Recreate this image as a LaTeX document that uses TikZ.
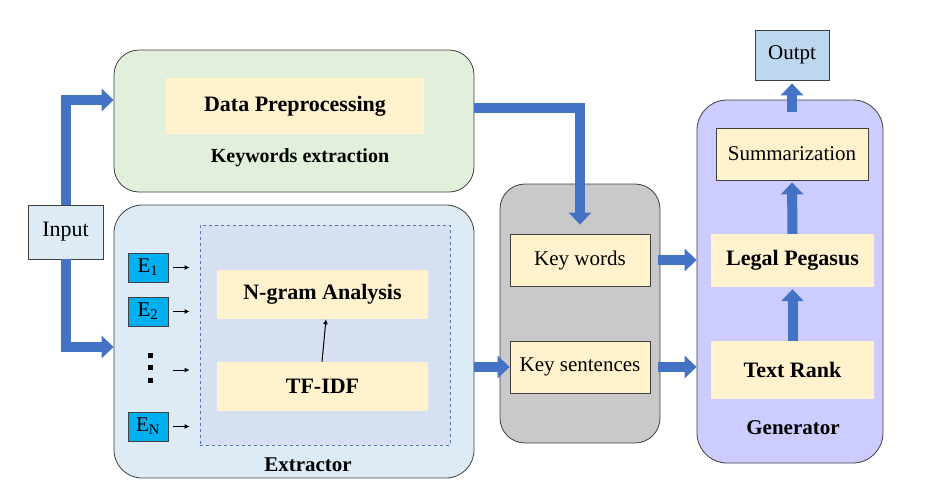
\documentclass[tikz,border=0pt]{standalone}
\usepackage{fontspec}
\setmainfont{Liberation Serif}
\usetikzlibrary{arrows.meta}
\definecolor{kwgreen}{HTML}{E2EFDA}
\definecolor{boxyellow}{HTML}{FFF2CC}
\definecolor{extblue}{HTML}{DDEBF7}
\definecolor{dashblue}{HTML}{D6E0F0}
\definecolor{ecyan}{HTML}{00B0F0}
\definecolor{kgray}{HTML}{C9C9C9}
\definecolor{genviolet}{HTML}{CCCCFF}
\definecolor{outblue}{HTML}{BDD7EE}
\definecolor{arrowblue}{HTML}{4472C4}
\definecolor{edge}{HTML}{404040}
\tikzset{
  every node/.style={inner sep=0pt, font=\fontsize{21}{25}\selectfont},
  group/.style={draw=edge, line width=0.8pt, rounded corners=28pt},
  yellowbox/.style={fill=boxyellow},
  framedbox/.style={fill=boxyellow, draw=edge, line width=0.8pt},
  ebox/.style={fill=ecyan, draw=edge, line width=0.8pt, minimum width=40pt, minimum height=29pt},
  bigarrow/.style={draw=arrowblue, line width=10pt, -{Triangle[width=22pt,length=12pt]}},
  smallarrow/.style={draw=black, line width=1pt, -{Latex[length=5pt,width=5pt]}}
}
\begin{document}
\begin{tikzpicture}[x=1pt,y=-1pt]
		%%%%% START %%%%%
		\useasboundingbox (0,0) rectangle (930,498);
		
		% keywords extraction
		\node[group, fill=kwgreen, rounded corners=25pt, minimum width=360pt, minimum height=142pt] (kwx) at (294, 121) {};
		\node[yellowbox, minimum width=258pt, minimum height=56pt, font=\fontsize{22}{26}\selectfont\bfseries] (dp) at (295, 106) {Data Preprocessing};
		\node[font=\fontsize{20}{24}\selectfont\bfseries] (kwxlabel) at (300, 158) {Keywords extraction};
		
		% input
		\node[fill=extblue, draw=edge, line width=0.8pt, minimum width=75pt, minimum height=54pt, font=\fontsize{22}{26}\selectfont] (inp) at (65.5, 232) {Input};
		
		% extractor
		\node[group, fill=extblue, minimum width=360pt, minimum height=273pt] (ext) at (294, 341.5) {};
		\node[fill=dashblue, draw=arrowblue!70!gray, dashed, line width=0.8pt, minimum width=250pt, minimum height=220pt] (dbox) at (325, 335) {};
		\node[yellowbox, minimum width=211pt, minimum height=49pt, font=\fontsize{22}{26}\selectfont\bfseries] (ng) at (322.5, 294.5) {N-gram Analysis};
		\node[yellowbox, minimum width=211pt, minimum height=49pt, font=\fontsize{22}{26}\selectfont\bfseries] (tf) at (322.5, 386.5) {TF-IDF};
		\node[ebox] (e1) at (148, 267.5) {E\textsubscript{1}};
		\node[ebox] (e2) at (148, 311.5) {E\textsubscript{2}};
		\node[ebox] (en) at (148, 426.5) {E\textsubscript{N}};
		\coordinate (edots) at (168, 370);
		\foreach \y in {355, 367.5, 380}
			\fill (147.5, \y-2.5) rectangle (152.5, \y+2.5);
		\node[font=\fontsize{21}{25}\selectfont\bfseries] (extlabel) at (308, 465) {Extractor};
		
		% key words / key sentences
		\node[group, fill=kgray, rounded corners=25pt, minimum width=160pt, minimum height=259pt] (kg) at (580, 313.5) {};
		\node[framedbox, minimum width=140pt, minimum height=52pt] (keyw) at (580, 260) {Key words};
		\node[framedbox, minimum width=140pt, minimum height=52pt] (ks) at (580, 367) {Key sentences};
		
		% generator
		\node[group, fill=genviolet, rounded corners=30pt, minimum width=186pt, minimum height=363pt] (gen) at (790, 281.5) {};
		\node[framedbox, minimum width=152pt, minimum height=52pt] (sum) at (792, 154) {Summarization};
		\node[yellowbox, minimum width=163pt, minimum height=53pt, font=\fontsize{22}{26}\selectfont\bfseries] (lp) at (792.5, 260.5) {Legal Pegasus};
		\node[yellowbox, minimum width=163pt, minimum height=58pt, font=\fontsize{22}{26}\selectfont\bfseries] (tr) at (792.5, 370) {Text Rank};
		\node[font=\fontsize{21}{25}\selectfont\bfseries] (genlabel) at (793, 428) {Generator};
		
		% output
		\node[fill=outblue, draw=edge, line width=0.8pt, minimum width=74pt, minimum height=50pt] (out) at (792, 55) {Outpt};
		
		% connectors
		\draw[bigarrow] (inp.north) |- ([yshift=21pt]kwx.west);
		\draw[bigarrow] (inp.south) |- ([yshift=-5.5pt]ext.west);
		\draw[bigarrow, shorten >=9pt] ([yshift=13pt]kwx.east) -| (keyw.north);
		\draw[bigarrow] (ext.east |- ks.west) -- (ks.west);
		\draw[bigarrow, shorten <=8pt] (keyw.east) -- (keyw.east -| gen.west);
		\draw[bigarrow, shorten <=8pt] (ks.east) -- (ks.east -| gen.west);
		\draw[bigarrow, shorten >=2pt] (tr.north) -- (lp.south);
		\draw[bigarrow, shorten >=2pt] (lp.north) -- (sum.south);
		\draw[bigarrow, shorten <=-12pt, shorten >=3pt] (out.south |- gen.north) -- (out.south);
		
		\foreach \e in {e1, e2, edots, en}
			\draw[smallarrow, shorten <=5pt, shorten >=10pt] (\e.east) -- (\e.east -| dbox.west);
		\draw[smallarrow] ([xshift=-0.5pt]tf.north) -- ([xshift=3.5pt]ng.south);
		%%%%% END %%%%%
\end{tikzpicture}
\end{document}
